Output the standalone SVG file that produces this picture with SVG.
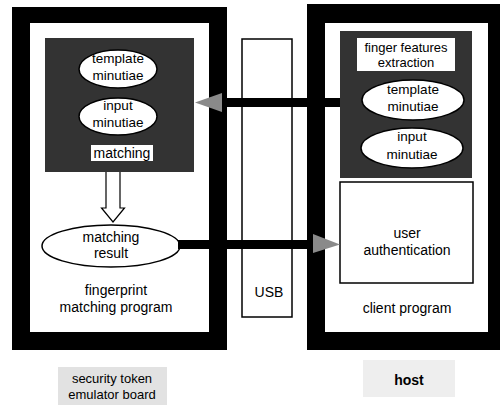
<svg xmlns="http://www.w3.org/2000/svg" width="500" height="408" viewBox="0 0 500 408">
<defs>
<style>
text{font-family:"Liberation Sans",Arial,sans-serif;fill:#000;text-anchor:middle}
.t{font-size:14px}
.s{font-size:13px}
.e{font-size:13.5px}
.frame{fill:#000;fill-rule:evenodd}
.dark{fill:#333}
.wb{fill:#fff;stroke:#000;stroke-width:1.5}
.ell{fill:#fff;stroke:#000;stroke-width:1.5}
.lab{fill:#e2e2e2}
.head{fill:#8a8a8a}
</style>
</defs>
<rect width="500" height="408" fill="#fff"/>

<g id="security-token-board">
<path class="frame" d="M12 7H227V350H12Z M30 23V332H209V23Z"/>
</g>

<g id="host-frame">
<path class="frame" d="M307 4H500V350H307Z M325 23V332H488V23Z"/>
</g>

<g id="usb">
<rect x="242" y="39" width="50" height="278" fill="none" stroke="#000" stroke-width="1.5"/>
<text class="t" x="269" y="297">USB</text>
</g>

<g id="matching-block">
<rect class="dark" x="45" y="38" width="149" height="134"/>
<rect x="91" y="145" width="62" height="16" fill="#fff"/>
<text class="t" x="122" y="158">matching</text>
</g>

<g id="left-template">
<ellipse class="ell" cx="118" cy="69" rx="39" ry="19"/>
<text class="e" x="118" y="63">template</text>
<text class="e" x="118" y="80">minutiae</text>
</g>

<g id="left-input">
<ellipse class="ell" cx="118" cy="116.5" rx="39" ry="18.5"/>
<text class="e" x="118" y="110">input</text>
<text class="e" x="118" y="127">minutiae</text>
</g>

<g id="matching-result">
<ellipse class="ell" cx="111" cy="246" rx="69" ry="21"/>
<text class="t" x="111" y="242">matching</text>
<text class="t" x="111" y="258">result</text>
</g>

<g id="fingerprint-matching-program">
<text class="t" x="116" y="295">fingerprint</text>
<text class="t" x="116" y="312">matching program</text>
</g>

<g id="feature-extraction">
<rect class="dark" x="340" y="31" width="132" height="147"/>
<rect x="357" y="38" width="98" height="33" fill="#fff"/>
<text class="s" x="406" y="51.5">finger features</text>
<text class="s" x="406" y="67">extraction</text>
</g>

<g id="right-template">
<ellipse class="ell" cx="413" cy="100" rx="51" ry="20"/>
<text class="e" x="413" y="94">template</text>
<text class="e" x="413" y="111">minutiae</text>
</g>

<g id="right-input">
<ellipse class="ell" cx="412" cy="148" rx="51" ry="20"/>
<text class="e" x="412" y="141">input</text>
<text class="e" x="412" y="159">minutiae</text>
</g>

<g id="user-authentication">
<rect class="wb" x="340" y="182" width="133" height="101"/>
<text class="t" x="407" y="238">user</text>
<text class="t" x="407" y="255">authentication</text>
</g>

<g id="client-program">
<text class="t" x="407" y="313">client program</text>
</g>

<g id="label-security-token">
<rect class="lab" x="58" y="367" width="109" height="38"/>
<text class="s" x="112" y="383">security token</text>
<text class="s" x="112" y="399">emulator board</text>
</g>

<g id="label-host">
<rect class="lab" x="363" y="360" width="92" height="37" fill-opacity="0.6"/>
<text class="t" x="409" y="385" font-weight="bold">host</text>
</g>

<g id="connectors">
<rect x="222" y="98" width="118" height="9" fill="#000"/>
<polygon class="head" points="195,102.5 222,93 222,112"/>
<rect x="178" y="240" width="136" height="9" fill="#000"/>
<polygon class="head" points="340,244.5 313,234 313,253"/>
<path d="M106 172V208H101.5L113 222L124.5 208H120V172" fill="#fff" stroke="#000" stroke-width="1.2"/>
</g>
</svg>
